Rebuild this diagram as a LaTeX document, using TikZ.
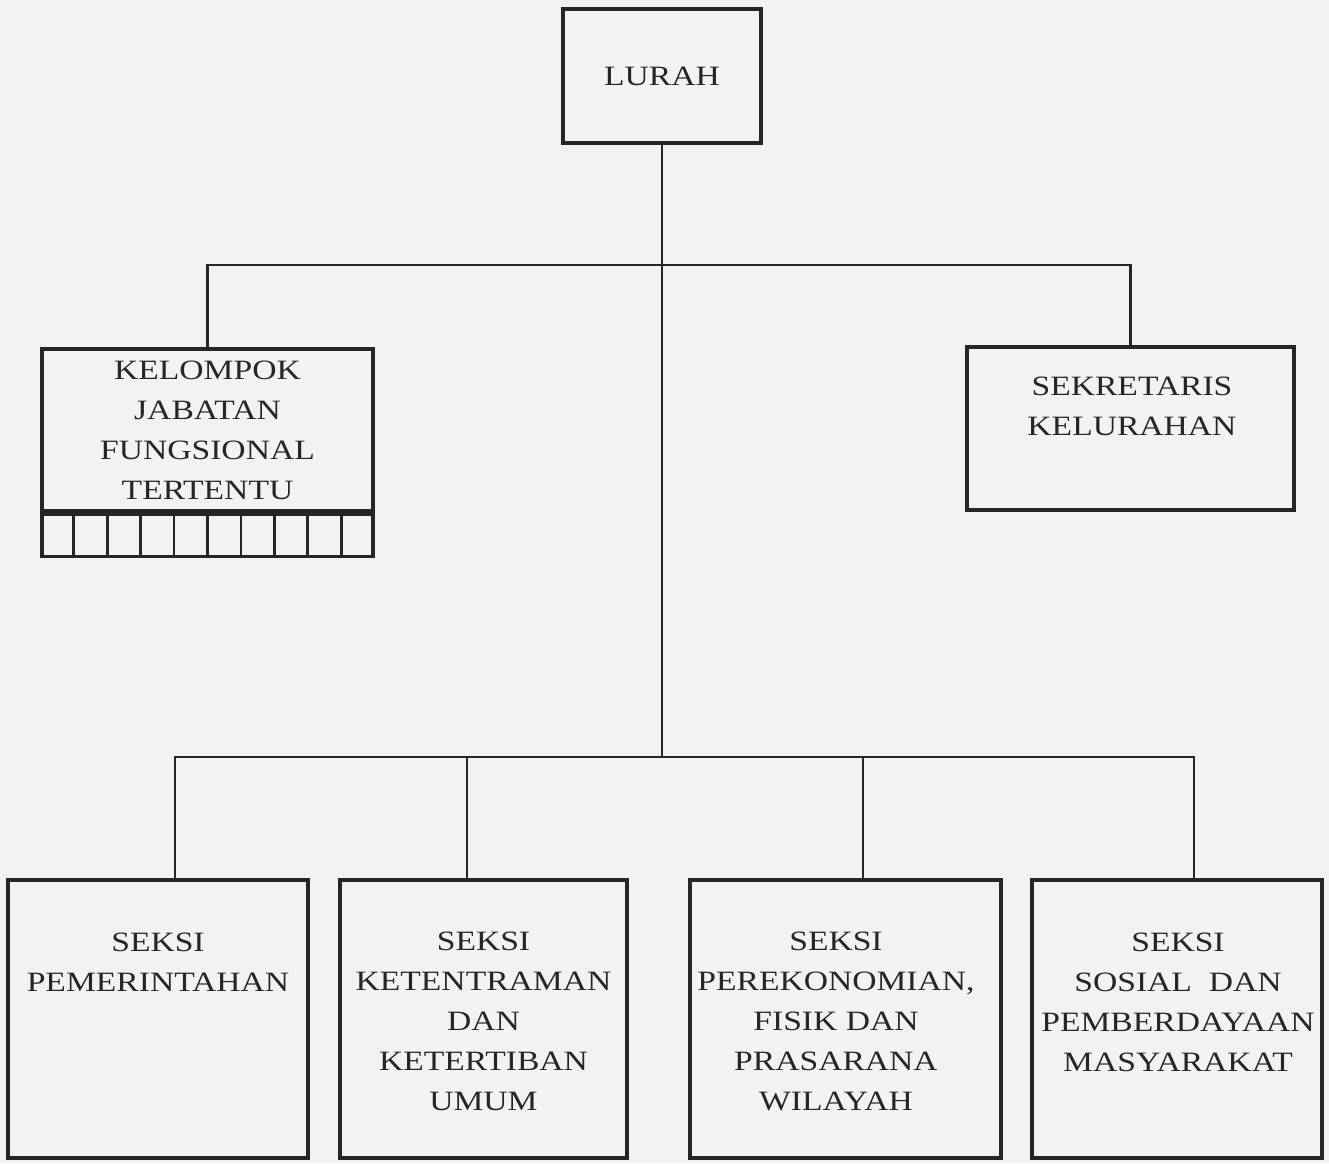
\documentclass[tikz,border=0pt]{standalone}
\usepackage{fontspec}
\setmainfont{Liberation Serif}[FakeStretch=1.2]
\usetikzlibrary{calc}
\tikzset{
  orgbox/.style={draw=black!85, line width=1.6pt, inner sep=0pt},
  orgtxt/.style={align=center, font=\fontsize{14}{20}\selectfont, text=black!85, inner sep=0pt},
  link/.style={draw=black!85, line width=1.2pt},
}
\begin{document}
\begin{tikzpicture}[x=0.5pt,y=-0.5pt]
\useasboundingbox (0,0) rectangle (1329,1163);
\fill[gray!10] (0,0) rectangle (1329,1163);

% top
\node[orgbox, orgtxt, minimum width=99pt, minimum height=67pt] (lurah) at (662,76) {LURAH};

% middle level
\node[orgbox, orgtxt, minimum width=165.5pt, minimum height=81pt] (kel) at (207.5,430)
  {KELOMPOK\\JABATAN\\FUNGSIONAL\\TERTENTU};
\node[orgbox, minimum width=165.5pt, minimum height=21pt, anchor=north] (cells) at (kel.south) {};
\foreach \i in {1,...,9}
  \draw[link, line width=1.4pt] ($(cells.north west)!\i/10!(cells.north east)$) -- ($(cells.south west)!\i/10!(cells.south east)$);

\node[orgbox, minimum width=163.5pt, minimum height=81.5pt] (sek) at (1130.5,428.5) {};
\node[orgtxt] (sektxt) at (1132,406.5) {SEKRETARIS\\KELURAHAN};

% bottom level
\node[orgbox, minimum width=150pt, minimum height=139pt] (b1) at (158,1019) {};
\node[orgbox, minimum width=143.5pt, minimum height=139pt] (b2) at (483.5,1019) {};
\node[orgbox, minimum width=155.5pt, minimum height=139pt] (b3) at (845.5,1019) {};
\node[orgbox, minimum width=145pt, minimum height=139pt] (b4) at (1177,1019) {};

\node[orgtxt] (t1) at (158,962) {SEKSI\\PEMERINTAHAN};
\node[orgtxt] (t2) at (483.5,1021.5) {SEKSI\\KETENTRAMAN\\DAN\\KETERTIBAN\\UMUM};
\node[orgtxt] (t3) at (836,1021.5) {SEKSI\\PEREKONOMIAN,\\FISIK DAN\\PRASARANA\\WILAYAH};
\node[orgtxt] (t4) at (1178,1002) {SEKSI\\SOSIAL\ \ DAN\\PEMBERDAYAAN\\MASYARAKAT};

% junction coordinates
\coordinate (j1) at (662,265);
\coordinate (j2) at (662,757);
\coordinate (x1) at (175,0);
\coordinate (x2) at (467,0);
\coordinate (x3) at (863,0);
\coordinate (x4) at (1194,0);

% connectors
\draw[link] (lurah.south) -- (j2);
\draw[link] (kel.north) |- (j1) -| (sek.north);
\draw[link] (x1 |- b1.north) -- (x1 |- j2) -- (x4 |- j2) -- (x4 |- b4.north);
\draw[link] (x2 |- j2) -- (x2 |- b2.north);
\draw[link] (x3 |- j2) -- (x3 |- b3.north);
\end{tikzpicture}
\end{document}
